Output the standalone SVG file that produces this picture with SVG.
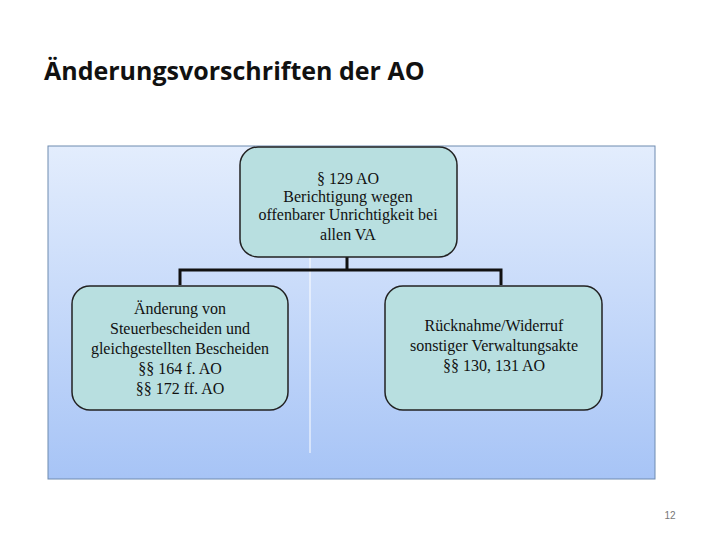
<svg xmlns="http://www.w3.org/2000/svg" width="720" height="540" viewBox="0 0 720 540">
<defs>
<linearGradient id="bg" x1="0" y1="0" x2="0" y2="1"><stop offset="0" stop-color="#e3edfd"/><stop offset="1" stop-color="#a7c4f6"/></linearGradient>
<style>
.box{fill:#b8dfe0;stroke:#222;stroke-width:1.5}
.t{font-family:"Liberation Serif",serif;font-size:16px;fill:#111;text-anchor:middle}
.c{fill:none;stroke:#111;stroke-width:3}
</style>
</defs>
<rect width="720" height="540" fill="#fff"/>
<text x="44" y="80" font-family="Open Sans, sans-serif" font-weight="bold" font-size="25" fill="#111">Änderungsvorschriften der AO</text>
<rect x="48" y="146" width="607" height="333" fill="url(#bg)" stroke="#6f8bb0" stroke-width="1"/>
<line x1="310" y1="258" x2="310" y2="453" stroke="#fff" stroke-width="1"/>
<g id="connectors">
<path class="c" d="M347 257V270M180 285V270H501V285"/>
</g>
<g id="top"><rect class="box" x="240" y="147" width="217" height="110" rx="18"/>
<text class="t" x="348" y="184">§ 129 AO</text><text class="t" x="348" y="197" dy="5">Berichtigung wegen</text><text class="t" x="348" y="220">offenbarer Unrichtigkeit bei</text><text class="t" x="348" y="240">allen VA</text></g>
<g id="left"><rect class="box" x="72" y="286" width="216" height="124" rx="18"/>
<text class="t" x="180" y="314">Änderung von</text><text class="t" x="180" y="334">Steuerbescheiden und</text><text class="t" x="180" y="354">gleichgestellten Bescheiden</text><text class="t" x="180" y="374">§§ 164 f. AO</text><text class="t" x="180" y="394">§§ 172 ff. AO</text></g>
<g id="right"><rect class="box" x="385" y="286" width="217" height="124" rx="18"/>
<text class="t" x="494" y="331">Rücknahme/Widerruf</text><text class="t" x="494" y="351">sonstiger Verwaltungsakte</text><text class="t" x="494" y="371">§§ 130, 131 AO</text></g>
<text x="670" y="519" font-family="Liberation Sans, sans-serif" font-size="10" fill="#777" text-anchor="middle">12</text>
</svg>
